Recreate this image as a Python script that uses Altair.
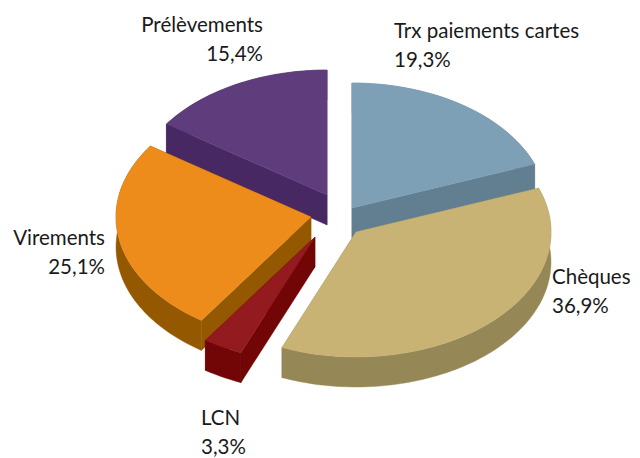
import math
import altair as alt

# Data
names = ["Trx paiements cartes", "Chèques", "LCN", "Virements", "Prélèvements"]
values = [19.3, 36.9, 3.3, 25.1, 15.4]
value_labels = ["19,3%", "36,9%", "3,3%", "25,1%", "15,4%"]
top_colors = ["#7DA0B6", "#C8B374", "#931A1F", "#EE8C1B", "#5F3D7D"]
side_colors = ["#627F91", "#968757", "#720606", "#945900", "#472862"]

# Layout of the tilted pie (page pixels)
RX, RY, DEPTH = 195, 125, 30
MARGIN = 8
centers = {
    "Trx paiements cartes": (352, 208),
    "Chèques": (356, 232),
    "LCN": (315, 237),
    "Virements": (311, 217),
    "Prélèvements": (327, 195),
}
label_pos = {
    "Trx paiements cartes": (394, 38, "left"),
    "Chèques": (552, 284, "left"),
    "LCN": (201, 425, "left"),
    "Virements": (105, 245, "right"),
    "Prélèvements": (263, 32, "right"),
}
LINE = 29
draw_order = ["Prélèvements", "Trx paiements cartes", "Virements", "LCN", "Chèques"]


def feature(ring, fill, stroke):
    return {
        "type": "Feature",
        "properties": {"fill": fill, "stroke": stroke},
        "geometry": {"type": "Polygon", "coordinates": [ring + [ring[0]]]},
    }


def shifted(points):
    return [[p[0], p[1] + DEPTH] for p in points]


total = sum(values)
spans, acc = {}, 0.0
for n, v in zip(names, values):
    spans[n] = (acc, acc + v / total * 2 * math.pi)
    acc = spans[n][1]

features = []
for n in draw_order:
    i = names.index(n)
    cx, cy = centers[n]
    a0, a1 = spans[n]
    steps = max(4, int((a1 - a0) / math.radians(1.5)))
    arc = [
        [cx - MARGIN + RX * math.sin(a0 + (a1 - a0) * s / steps),
         cy - MARGIN - RY * math.cos(a0 + (a1 - a0) * s / steps)]
        for s in range(steps + 1)
    ]
    apex = [cx - MARGIN, cy - MARGIN]
    # walls: outer rim and the two radial faces, each one polygon
    rim = arc + shifted(arc)[::-1]
    for wall in ([apex, arc[0]], [apex, arc[-1]]):
        features.append(feature(wall + shifted(wall)[::-1], side_colors[i], side_colors[i]))
    features.append(feature(rim, side_colors[i], side_colors[i]))
    features.append(feature([apex] + arc, top_colors[i], top_colors[i]))

pie = (
    alt.Chart(alt.Data(values=features))
    .mark_geoshape(strokeWidth=0.4)
    .encode(
        fill=alt.Fill("properties.fill:N", scale=None),
        stroke=alt.Stroke("properties.stroke:N", scale=None),
    )
    .project(type="identity", scale=1, translate=[0, 0])
)

layers = [pie]
for n, lab in zip(names, value_labels):
    x, y, align = label_pos[n]
    for row, txt in enumerate([n, lab]):
        layers.append(
            alt.Chart(alt.Data(values=[{"t": txt}]))
            .mark_text(align=align, baseline="alphabetic", font="Lato", fontSize=20.5, color="#1a1a1a")
            .encode(
                text="t:N",
                x=alt.value(x - MARGIN),
                y=alt.value(y - MARGIN + row * LINE),
            )
        )

chart = (
    alt.layer(*layers)
    .properties(width=624, height=450, padding=0, autosize=alt.AutoSizeParams(type="none"), background="white")
    .configure_view(stroke=None)
)

chart.save("out.html", embed_options={"renderer": "svg", "actions": False})
